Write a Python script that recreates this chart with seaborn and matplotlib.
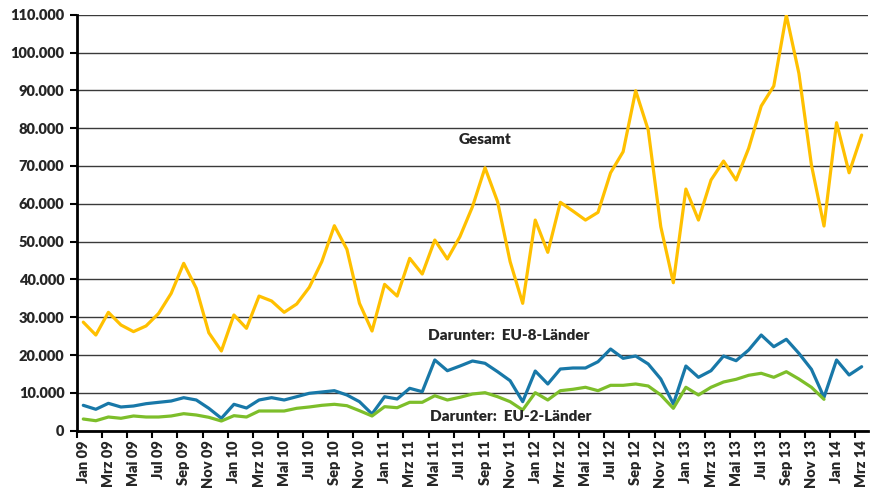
import numpy as np
import pandas as pd
import matplotlib.pyplot as plt
import seaborn as sns
from matplotlib.ticker import FuncFormatter, FixedLocator

# Monatswerte Jan 09 - Mrz 14
monate = ["Jan", "Feb", "Mrz", "Apr", "Mai", "Jun", "Jul", "Aug", "Sep", "Okt", "Nov", "Dez"]
labels = [f"{monate[i % 12]} {9 + i // 12:02d}" for i in range(63)]

gesamt = [28700, 25300, 31300, 27950, 26200, 27700, 31000, 36300, 44260, 37650, 25900, 21070,
          30600, 27070, 35600, 34300, 31300, 33500, 37900, 44700, 54200, 47960, 33680, 26360,
          38700, 35600, 45580, 41430, 50420, 45400, 51300, 59230, 69540, 60550, 44700, 33680,
          55700, 47170, 60390, 58090, 55700, 57740, 68200, 73770, 89900, 79500, 53940, 39130,
          63900, 55700, 66280, 71300, 66280, 74670, 85850, 91140, 109900, 94500, 70250, 54120,
          81440, 68200, 78180]

eu8 = [6710, 5660, 7240, 6270, 6530, 7140, 7500, 7850, 8730, 8120, 5920, 3280,
       6980, 6000, 8120, 8730, 8120, 8990, 9890, 10230, 10580, 9440, 7670, 4420,
       8990, 8380, 11210, 10310, 18700, 15860, 17100, 18430, 17820, 15600, 13220, 7670,
       15780, 12350, 16310, 16580, 16580, 18240, 21600, 19140, 19750, 17640, 13670, 7060,
       17100, 14120, 15860, 19750, 18510, 21340, 25300, 22210, 24170, 20460, 16230, 8830,
       18700, 14730, 16920]

eu2 = [3090, 2640, 3620, 3280, 3890, 3620, 3620, 3890, 4500, 4150, 3540, 2560,
       3970, 3620, 5210, 5210, 5210, 5920, 6270, 6710, 6980, 6610, 5290, 3890,
       6350, 6080, 7510, 7510, 9250, 8120, 8830, 9700, 10050, 8990, 7670, 5470,
       10050, 8120, 10580, 10950, 11480, 10580, 12000, 12000, 12350, 11820, 9440, 5920,
       11480, 9440, 11480, 12880, 13590, 14650, 15180, 14120, 15600, 13670, 11480, 8300,
       np.nan, np.nan, np.nan]

df = pd.DataFrame({"idx": np.arange(63), "Gesamt": gesamt, "EU-8": eu8, "EU-2": eu2})

sns.set_style("white")
plt.rcParams["font.family"] = ["Lato", "DejaVu Sans"]
plt.rcParams["font.weight"] = "heavy"

fig = plt.figure(figsize=(8.73, 4.92), dpi=100)
ax = fig.add_axes([0.0882, 0.1246, 0.906, 0.8455])

ax.yaxis.grid(True, color="#3a3a3a", linewidth=1.0)
ax.set_axisbelow(True)

sns.lineplot(data=df, x="idx", y="Gesamt", color="#FFC000", linewidth=2.3, ax=ax)
sns.lineplot(data=df, x="idx", y="EU-8", color="#1878A8", linewidth=2.3, ax=ax)
sns.lineplot(data=df, x="idx", y="EU-2", color="#7DBE2A", linewidth=2.3, ax=ax)

ax.set_xlim(-0.5, 62.5)
ax.set_ylim(0, 110000)
ax.set_yticks(np.arange(0, 110001, 10000))
ax.yaxis.set_major_formatter(FuncFormatter(lambda v, p: f"{int(v):,}".replace(",", ".")))

# labels at month centers, tick marks at boundaries
ax.set_xticks(np.arange(0, 63, 2))
ax.set_xticklabels(labels[::2], rotation=90)
ax.tick_params(axis="x", which="major", length=0, pad=7)
ax.xaxis.set_minor_locator(FixedLocator(np.arange(-0.5, 62, 2)))
ax.tick_params(axis="x", which="minor", length=5, width=1.5, color="black", direction="out", bottom=True)
ax.tick_params(axis="y", length=5, width=1.5, color="black", direction="out", left=True, pad=4)
ax.tick_params(labelsize=10.5)
for t in ax.get_xticklabels() + ax.get_yticklabels():
    t.set_fontweight("heavy")

ax.set_xlabel("")
ax.set_ylabel("")
for s in ["top", "right"]:
    ax.spines[s].set_visible(False)
for s in ["left", "bottom"]:
    ax.spines[s].set_color("black")
    ax.spines[s].set_linewidth(2)

ax.text(0.516, 0.701, "Gesamt", transform=ax.transAxes, ha="center", va="center",
        fontsize=11, fontweight="heavy")
ax.text(0.546, 0.228, "Darunter:  EU-8-Länder", transform=ax.transAxes, ha="center", va="center",
        fontsize=11, fontweight="heavy")
ax.text(0.549, 0.034, "Darunter:  EU-2-Länder", transform=ax.transAxes, ha="center", va="center",
        fontsize=11, fontweight="heavy")

fig.savefig("out.png", dpi=100)
